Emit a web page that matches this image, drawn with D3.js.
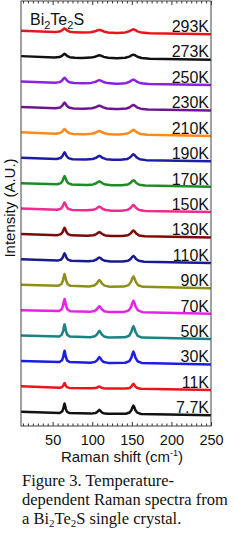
<!DOCTYPE html>
<html>
<head>
<meta charset="utf-8">
<script src="https://cdn.jsdelivr.net/npm/d3@7"></script>
<style>
  html, body { margin: 0; padding: 0; background: #fff; }
  svg { display: block; }
</style>
</head>
<body>
<svg id="chart" width="244" height="537"></svg>
<script>
// temperatures, top trace first
const temps = ["293K", "273K", "250K", "230K", "210K", "190K", "170K", "150K",
               "130K", "110K", "90K", "70K", "50K", "30K", "11K", "7.7K"];
const colors = ["#e8161c", "#111111", "#8a22e0", "#6c1690", "#ff8a1c", "#1c1ca6",
                "#1c8c24", "#f02a8e", "#7c0a0a", "#1a1a92", "#8e8e1a", "#e820e8",
                "#1a8282", "#1c1ce6", "#e8161c", "#111111"];

// Raman peak positions (cm-1)
const peakPos = [65, 109, 152];
const peakWidth = [1.0, 1.7, 1.6];

// peak heights per trace (in units of trace spacing), same order as temps
const peak1 = [0.16, 0.16, 0.22, 0.24, 0.20, 0.28, 0.35, 0.31, 0.31, 0.31, 0.49, 0.51, 0.51, 0.47, 0.20, 0.39];
const peak2 = [0.12, 0.12, 0.14, 0.14, 0.14, 0.16, 0.16, 0.16, 0.16, 0.16, 0.27, 0.24, 0.27, 0.24, 0.08, 0.16];
const peak3 = [0.16, 0.16, 0.18, 0.18, 0.20, 0.24, 0.22, 0.24, 0.24, 0.24, 0.43, 0.47, 0.47, 0.47, 0.20, 0.35];
// line width factor per trace
const broad = [3.2, 3.2, 3.0, 2.8, 2.8, 2.5, 2.3, 2.3, 2.2, 2.1, 1.9, 1.8, 1.7, 1.6, 1.5, 1.5];

// shared peak shape
const profileDx = [-4, -2, -1, -0.5, 0, 0.5, 1, 2, 4];
const profileY = [0.06, 0.2, 0.5, 0.8, 1, 0.8, 0.5, 0.2, 0.06];

// sloping background
const baseX = [10, 14, 22, 40, 250];
const baseY = [0.09, 0.06, 0.04, 0.03, -0.05];

const xTicks = [50, 100, 150, 200, 250];

const svg = d3.select("#chart");
const margin = {left: 21, right: 33, top: 1, bottom: 111};
const width = 244 - margin.left - margin.right;
const height = 537 - margin.top - margin.bottom;

const x = d3.scaleLinear().domain([10, 250]).range([0, width]);
const y = d3.scaleLinear().domain([-0.47, 16.26]).range([height, 0]);
const background = d3.scaleLinear().domain(baseX).range(baseY);

const g = svg.append("g").attr("transform", "translate(" + margin.left + "," + margin.top + ")");

const heights = [peak1, peak2, peak3];

const traces = temps.map(function(t, i) {
    const offset = temps.length - 1 - i;
    let pts = [[10, 0], [250, 0]];
    peakPos.forEach(function(p, k) {
        const w = peakWidth[k] * broad[i];
        profileDx.forEach(function(dx, j) {
            pts.push([p + dx * w, heights[k][i] * profileY[j]]);
        });
    });
    pts.sort((a, b) => a[0] - b[0]);
    pts = pts.map(d => [d[0], offset + background(d[0]) + d[1]]);
    return {label: t, color: colors[i], offset: offset, points: pts};
});

const line = d3.line()
    .x(d => x(d[0]))
    .y(d => y(d[1]));

g.selectAll("path.trace")
    .data(traces)
    .enter()
    .append("path")
    .attr("class", "trace")
    .attr("d", d => line(d.points))
    .attr("fill", "none")
    .attr("stroke", d => d.color)
    .attr("stroke-width", 2.5)
    .attr("stroke-linejoin", "round");

g.selectAll("text.temp")
    .data(traces)
    .enter()
    .append("text")
    .attr("class", "temp")
    .attr("x", width - 2)
    .attr("y", d => y(d.offset + background(230)) - 2)
    .attr("text-anchor", "end")
    .style("font-family", "'Liberation Sans', Arial, sans-serif")
    .style("font-size", "16px")
    .attr("fill", "#111")
    .text(d => d.label);

// axes
const minor = d3.range(12.5, 250.1, 6.25).filter(v => xTicks.indexOf(v) < 0);

const bottomMinor = g.append("g").attr("transform", "translate(0," + height + ")")
    .call(d3.axisBottom(x).tickValues(minor).tickSize(-2.5).tickFormat(""));
const bottomMajor = g.append("g").attr("transform", "translate(0," + height + ")")
    .call(d3.axisBottom(x).tickValues(xTicks).tickSize(-4).tickPadding(9));
const topMinor = g.append("g")
    .call(d3.axisTop(x).tickValues(minor).tickSize(-2.5).tickFormat(""));
const topMajor = g.append("g")
    .call(d3.axisTop(x).tickValues(xTicks).tickSize(-4).tickFormat(""));

[bottomMinor, bottomMajor, topMinor, topMajor].forEach(function(a) {
    a.select(".domain").remove();
    a.selectAll("line").attr("stroke", "#333");
});
bottomMajor.selectAll("text")
    .style("font-family", "'Liberation Sans', Arial, sans-serif")
    .style("font-size", "14.5px")
    .attr("fill", "#111");

g.append("rect")
    .attr("x", 0).attr("y", 0)
    .attr("width", width).attr("height", height)
    .attr("fill", "none")
    .attr("stroke", "#444")
    .attr("stroke-width", 1);

// axis titles
svg.append("text")
    .attr("transform", "translate(15,208) rotate(-90)")
    .attr("text-anchor", "middle")
    .style("font-family", "'Liberation Sans', Arial, sans-serif")
    .style("font-size", "15px")
    .attr("fill", "#111")
    .text("Intensity (A.U.)");

const xTitle = svg.append("text")
    .attr("x", 122).attr("y", 462)
    .attr("text-anchor", "middle")
    .style("font-family", "'Liberation Sans', Arial, sans-serif")
    .style("font-size", "15px")
    .attr("fill", "#111");
xTitle.append("tspan").text("Raman shift (cm");
xTitle.append("tspan").attr("dy", -6).style("font-size", "9px").text("-1");
xTitle.append("tspan").attr("dy", 6).text(")");

// sample name
const name = g.append("text")
    .attr("x", 9).attr("y", 24)
    .style("font-family", "'Liberation Sans', Arial, sans-serif")
    .style("font-size", "16px")
    .attr("fill", "#111");
name.append("tspan").text("Bi");
name.append("tspan").attr("dy", 4).style("font-size", "11px").text("2");
name.append("tspan").attr("dy", -4).text("Te");
name.append("tspan").attr("dy", 4).style("font-size", "11px").text("2");
name.append("tspan").attr("dy", -4).text("S");

// caption
const capFont = "'Liberation Serif', 'Times New Roman', serif";
const caption = svg.append("g")
    .style("font-family", capFont)
    .style("font-size", "16.5px")
    .attr("fill", "#111");
caption.append("text").attr("x", 22).attr("y", 486).text("Figure 3. Temperature-");
caption.append("text").attr("x", 22).attr("y", 505).text("dependent Raman spectra from");
const last = caption.append("text").attr("x", 22).attr("y", 524);
last.append("tspan").text("a Bi");
last.append("tspan").attr("dy", 3).style("font-size", "11px").text("2");
last.append("tspan").attr("dy", -3).text("Te");
last.append("tspan").attr("dy", 3).style("font-size", "11px").text("2");
last.append("tspan").attr("dy", -3).text("S single crystal.");
</script>
</body>
</html>
